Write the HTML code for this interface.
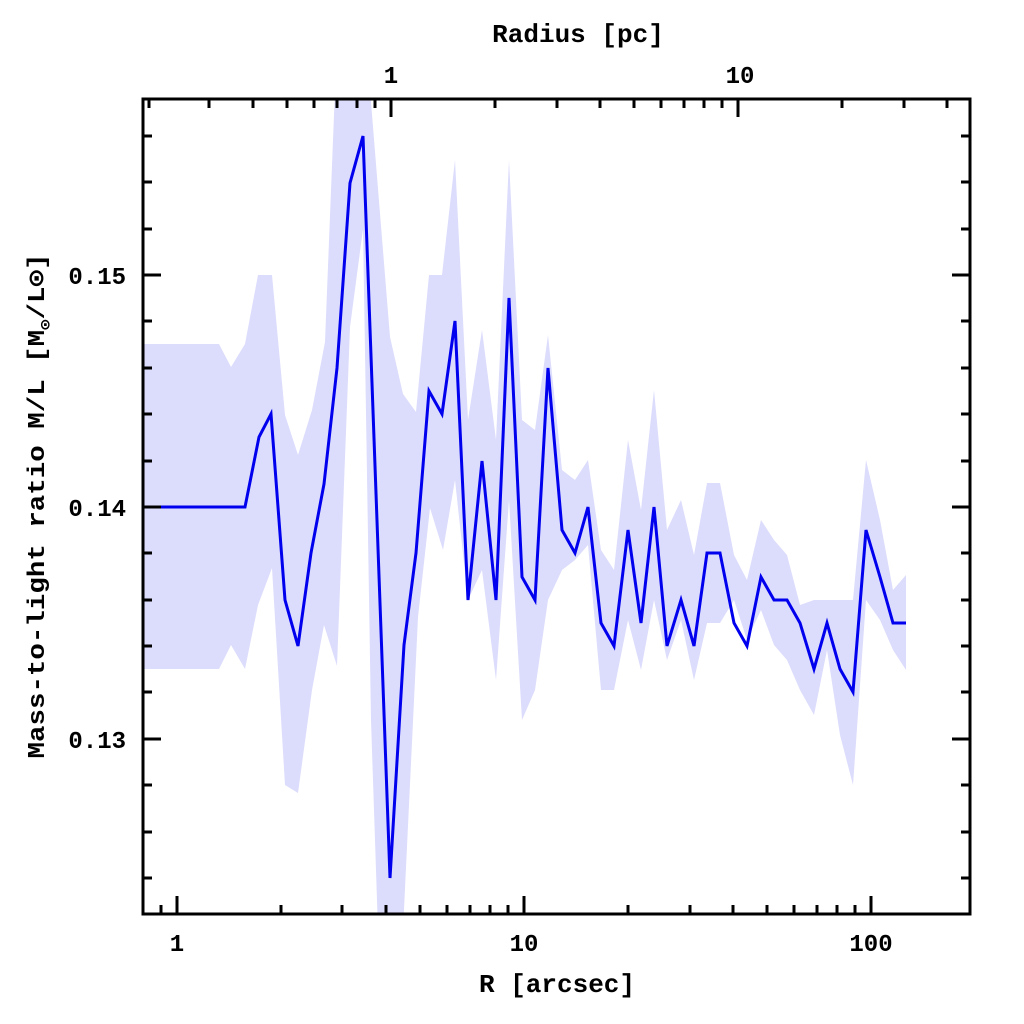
<!DOCTYPE html>
<html><head><meta charset="utf-8"><style>
html,body{margin:0;padding:0;background:#fff;}
svg{display:block;}
text{font-family:"Liberation Mono","DejaVu Sans Mono",monospace;font-weight:bold;fill:#000;}
</style></head><body>
<svg width="1024" height="1024" viewBox="0 0 1024 1024" xmlns="http://www.w3.org/2000/svg">
<defs><clipPath id="c"><rect x="143" y="99" width="827" height="815"/></clipPath></defs>
<g clip-path="url(#c)">
<polygon fill="#dcdcfc" points="143,344 219,344 231,367 245,344 258,275 272,275 285,415 298,455 312,410 325,342 335,90 370,90 390,337 403,394 416,412 429,275 442,275 455,160 468,420 482,330 496,440 509,160 522,420 535,430 548,335 562,470 575,480 588,460 601,550 614,570 628,440 641,510 654,390 667,530 681,500 694,555 707,483 720,483 734,555 747,580 761,520 774,540 787,555 800,605 814,600 827,600 840,600 853,600 866,460 880,520 893,590 906,575 906,670 893,650 880,620 866,600 853,785 840,735 827,650 814,715 800,690 787,660 774,645 761,610 747,640 734,600 720,623 707,623 694,680 681,620 667,660 654,600 641,670 628,620 614,690 601,690 588,545 575,560 562,570 548,600 535,690 522,720 509,500 496,680 482,570 468,600 455,480 443,550 430,508 418,617 403,930 378,930 371,720 363,229 350,327 337,666 324,625 312,690 298,793 285,785 272,568 258,605 245,669 231,645 219,669 143,669"/>
<polyline fill="none" stroke="#0000ee" stroke-width="3" stroke-linejoin="miter" points="143,507 245,507 259,437 271,414 285,600 298,646 311,553 324,484 337,368 350,183 363,136 390,878 404,645 416,553 429,391 442,414 455,321 468,600 482,461 496,600 509,298 522,577 535,600 548,368 562,530 575,553 588,507 601,623 614,646 628,530 641,623 654,507 667,646 681,600 694,646 707,553 720,553 734,623 747,646 761,577 774,600 787,600 800,623 814,669 827,623 840,669 853,692 866,530 880,577 893,623 906,623"/>
</g>
<rect x="143" y="99" width="827" height="815" fill="none" stroke="#000" stroke-width="3"/>
<g stroke="#000" stroke-width="3">
<path d="M161,914v-9M177,914v-18M281,914v-9M342,914v-9M386,914v-9M420,914v-9M447,914v-9M470,914v-9M490,914v-9M508,914v-9M524,914v-18M628,914v-9M690,914v-9M733,914v-9M767,914v-9M794,914v-9M817,914v-9M837,914v-9M855,914v-9M871,914v-18"/>
<path d="M149,99v9M209,99v9M253,99v9M287,99v9M314,99v9M337,99v9M357,99v9M375,99v9M391,99v18M495,99v9M557,99v9M600,99v9M634,99v9M661,99v9M684,99v9M704,99v9M722,99v9M738,99v18M842,99v9M904,99v9M947,99v9"/>
<path d="M143,136h9M143,182h9M143,229h9M143,275h18M143,321h9M143,368h9M143,414h9M143,461h9M143,507h18M143,553h9M143,600h9M143,646h9M143,692h9M143,739h18M143,785h9M143,832h9M143,878h9"/>
<path d="M970,136h-9M970,182h-9M970,229h-9M970,275h-18M970,321h-9M970,368h-9M970,414h-9M970,461h-9M970,507h-18M970,553h-9M970,600h-9M970,646h-9M970,692h-9M970,739h-18M970,785h-9M970,832h-9M970,878h-9"/>
</g>
<g font-size="24">
<text x="177" y="951" text-anchor="middle">1</text>
<text x="524" y="951" text-anchor="middle">10</text>
<text x="871" y="951" text-anchor="middle">100</text>
<text x="391" y="83" text-anchor="middle">1</text>
<text x="740" y="83" text-anchor="middle">10</text>
<text x="126" y="284" text-anchor="end">0.15</text>
<text x="126" y="516" text-anchor="end">0.14</text>
<text x="126" y="748" text-anchor="end">0.13</text>
</g>
<text x="557" y="992" text-anchor="middle" font-size="26">R [arcsec]</text>
<text x="578" y="42" text-anchor="middle" font-size="26">Radius [pc]</text>
<text transform="translate(44,506) rotate(-90)" text-anchor="middle" font-size="24" textLength="505" lengthAdjust="spacingAndGlyphs">Mass-to-light ratio M/L [M<tspan font-size="15" dy="6">⊙</tspan><tspan dy="-6">/L⊙]</tspan></text>
</svg>
</body></html>
